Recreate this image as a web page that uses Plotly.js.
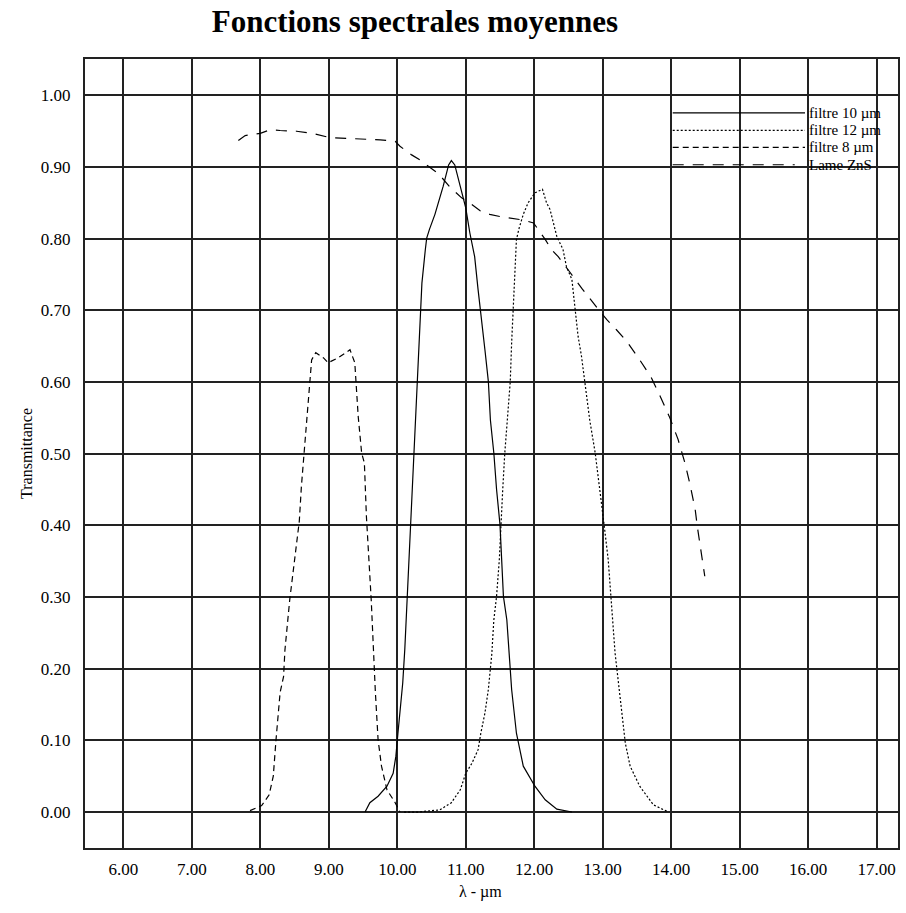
<!DOCTYPE html>
<html>
<head>
<meta charset="utf-8">
<script src="https://cdn.plot.ly/plotly-3.0.1.min.js"></script>
<style>html,body{margin:0;padding:0;background:#fff;}#chart{width:906px;height:913px;}</style>
</head>
<body>
<div id="chart"></div>
<script>
// Filtre 8 µm
var x8 = [7.85, 8.02, 8.13, 8.19, 8.23, 8.26, 8.29, 8.34, 8.36, 8.43, 8.57, 8.60, 8.64, 8.68, 8.73, 8.75, 8.81, 8.92, 8.99, 9.14, 9.31, 9.38, 9.43, 9.48, 9.52, 9.55, 9.62, 9.65, 9.68, 9.72, 9.77, 9.85, 9.97, 10.04];
var y8 = [0.002, 0.009, 0.024, 0.050, 0.101, 0.133, 0.167, 0.189, 0.226, 0.296, 0.406, 0.454, 0.501, 0.552, 0.608, 0.631, 0.641, 0.634, 0.627, 0.634, 0.645, 0.627, 0.552, 0.501, 0.487, 0.412, 0.296, 0.227, 0.168, 0.101, 0.064, 0.031, 0.013, 0.0];
// Filtre 10 µm
var x10 = [9.53, 9.60, 9.72, 9.85, 9.94, 9.98, 10.01, 10.04, 10.08, 10.11, 10.17, 10.24, 10.32, 10.34, 10.36, 10.41, 10.43, 10.47, 10.55, 10.67, 10.75, 10.79, 10.84, 10.92, 11.00, 11.06, 11.13, 11.18, 11.23, 11.28, 11.33, 11.36, 11.41, 11.45, 11.50, 11.52, 11.55, 11.60, 11.64, 11.67, 11.74, 11.84, 12.01, 12.16, 12.33, 12.55];
var y10 = [0.0, 0.013, 0.022, 0.036, 0.054, 0.078, 0.110, 0.143, 0.180, 0.227, 0.352, 0.478, 0.654, 0.701, 0.738, 0.785, 0.801, 0.813, 0.834, 0.873, 0.903, 0.909, 0.903, 0.873, 0.843, 0.808, 0.775, 0.729, 0.682, 0.645, 0.601, 0.547, 0.501, 0.450, 0.401, 0.352, 0.301, 0.268, 0.220, 0.171, 0.110, 0.064, 0.036, 0.017, 0.004, 0.0];
// Filtre 12 µm
var x12 = [10.10, 10.30, 10.62, 10.79, 10.92, 11.00, 11.09, 11.18, 11.22, 11.28, 11.33, 11.38, 11.41, 11.45, 11.49, 11.51, 11.54, 11.57, 11.61, 11.65, 11.67, 11.69, 11.72, 11.74, 11.78, 11.84, 11.91, 12.01, 12.12, 12.18, 12.23, 12.28, 12.33, 12.42, 12.47, 12.55, 12.60, 12.64, 12.69, 12.74, 12.81, 12.89, 12.96, 13.02, 13.08, 13.12, 13.18, 13.23, 13.28, 13.33, 13.40, 13.54, 13.74, 13.96];
var y12 = [0, 0, 0.003, 0.013, 0.031, 0.054, 0.068, 0.087, 0.110, 0.138, 0.171, 0.220, 0.268, 0.301, 0.352, 0.401, 0.450, 0.501, 0.547, 0.601, 0.655, 0.701, 0.747, 0.799, 0.815, 0.834, 0.850, 0.864, 0.869, 0.850, 0.841, 0.822, 0.803, 0.785, 0.761, 0.743, 0.701, 0.664, 0.636, 0.601, 0.547, 0.501, 0.450, 0.401, 0.352, 0.296, 0.222, 0.180, 0.133, 0.096, 0.064, 0.036, 0.010, 0.0];
// Lame ZnS
var xZnS = [7.68, 7.78, 8.00, 8.14, 8.29, 8.53, 8.77, 9.02, 9.26, 9.50, 9.75, 9.97, 10.04, 10.21, 10.33, 10.60, 10.77, 10.94, 11.06, 11.21, 11.35, 11.50, 11.67, 11.84, 11.99, 12.08, 12.16, 12.25, 12.35, 12.50, 12.70, 12.94, 13.06, 13.20, 13.35, 13.54, 13.71, 13.84, 13.98, 14.10, 14.20, 14.27, 14.35, 14.38, 14.44, 14.49];
var yZnS = [0.937, 0.944, 0.947, 0.952, 0.951, 0.950, 0.947, 0.941, 0.940, 0.939, 0.938, 0.936, 0.929, 0.917, 0.910, 0.891, 0.872, 0.857, 0.850, 0.839, 0.834, 0.831, 0.829, 0.826, 0.822, 0.810, 0.799, 0.785, 0.775, 0.756, 0.730, 0.701, 0.687, 0.673, 0.657, 0.631, 0.606, 0.580, 0.550, 0.520, 0.487, 0.459, 0.422, 0.399, 0.361, 0.329];

var seriesNames = ["filtre 10 µm", "filtre 12 µm", "filtre 8 µm", "Lame ZnS"];
var xTickVals = [6, 7, 8, 9, 10, 11, 12, 13, 14, 15, 16, 17];
var yTickVals = [0, 0.1, 0.2, 0.3, 0.4, 0.5, 0.6, 0.7, 0.8, 0.9, 1.0];

var serif = "Liberation Serif, Times New Roman, serif";
var dashes = ["solid", "2px,2px", "6px,4px", "11px,9px"];

var traces = [
  {x: x10, y: y10, name: seriesNames[0], mode: "lines", line: {color: "#000", width: 1.2, dash: dashes[0]}},
  {x: x12, y: y12, name: seriesNames[1], mode: "lines", line: {color: "#000", width: 1.2, dash: dashes[1]}},
  {x: x8, y: y8, name: seriesNames[2], mode: "lines", line: {color: "#000", width: 1.2, dash: dashes[2]}},
  {x: xZnS, y: yZnS, name: seriesNames[3], mode: "lines", line: {color: "#000", width: 1.2, dash: dashes[3]}}
];

// manual legend (top right, inside plot)
var legRows = [0.9316, 0.9095, 0.8880, 0.8660];
var legEnds = [0.8856, 0.8856, 0.8856, 0.8730];
var shapes = [];
var annotations = [];
for (var i = 0; i < 4; i++) {
  shapes.push({type: "line", xref: "paper", yref: "paper", x0: 0.7229, x1: legEnds[i], y0: legRows[i], y1: legRows[i],
    line: {color: "#000", width: 1.2, dash: dashes[i]}});
  annotations.push({xref: "paper", yref: "paper", x: 0.8895, y: legRows[i], xanchor: "left", yanchor: "middle",
    text: seriesNames[i], showarrow: false, borderpad: 0, font: {family: serif, size: 15, color: "#000"}});
}
// x-axis title placed like the reference
annotations.push({xref: "paper", yref: "paper", x: 0.486, y: -0.056, xanchor: "center", yanchor: "middle",
  text: "λ - µm", showarrow: false, borderpad: 0, font: {family: serif, size: 16, color: "#000"}});

var layout = {
  width: 906, height: 913,
  margin: {l: 85, r: 8, t: 59, b: 65},
  paper_bgcolor: "#fff", plot_bgcolor: "#fff",
  showlegend: false,
  title: {text: "<b>Fonctions spectrales moyennes</b>", x: 0.458, xref: "container", xanchor: "center",
    y: 0.977, yref: "container", yanchor: "middle", font: {family: serif, size: 31, color: "#000"}},
  xaxis: {
    range: [5.441, 17.311], tickvals: xTickVals, tickformat: ".2f", ticks: "",
    showgrid: true, gridcolor: "#222", gridwidth: 2, zeroline: false,
    showline: true, mirror: true, linecolor: "#222", linewidth: 2,
    tickfont: {family: serif, size: 17, color: "#000"}, ticklabelstandoff: 5
  },
  yaxis: {
    range: [-0.0502, 1.0508], tickvals: yTickVals, tickformat: ".2f", ticks: "",
    showgrid: true, gridcolor: "#222", gridwidth: 2, zeroline: false,
    showline: true, mirror: true, linecolor: "#222", linewidth: 2,
    tickfont: {family: serif, size: 17, color: "#000"}, ticklabelstandoff: 9,
    title: {text: "Transmittance", font: {family: serif, size: 16, color: "#000"}, standoff: 4}
  },
  shapes: shapes,
  annotations: annotations
};

Plotly.newPlot("chart", traces, layout, {staticPlot: true, displayModeBar: false});
</script>
</body>
</html>
